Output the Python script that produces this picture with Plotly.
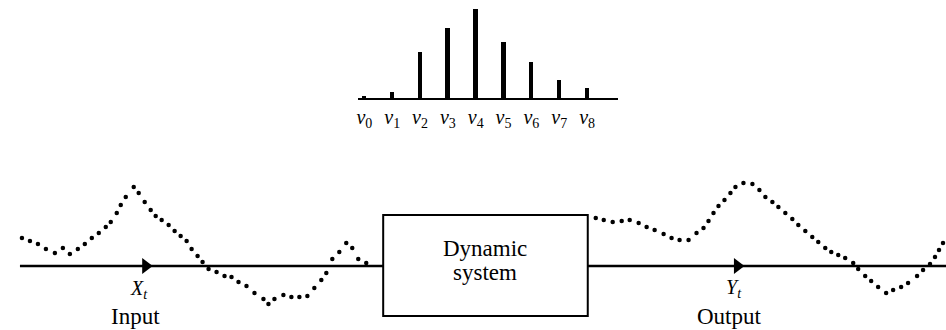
import plotly.graph_objects as go

# ---- impulse response weights (top chart) ----
lag_index = [0, 1, 2, 3, 4, 5, 6, 7, 8]
lag_labels = ["<i>v</i><sub>0</sub>", "<i>v</i><sub>1</sub>", "<i>v</i><sub>2</sub>",
              "<i>v</i><sub>3</sub>", "<i>v</i><sub>4</sub>", "<i>v</i><sub>5</sub>",
              "<i>v</i><sub>6</sub>", "<i>v</i><sub>7</sub>", "<i>v</i><sub>8</sub>"]
weights = [2, 6, 46, 70, 89, 56, 36, 18, 10]

# ---- input series X_t (dotted curve) ----
input_x = [20, 28, 36, 44, 53, 61, 68, 76, 83, 90, 97, 104, 109, 115, 119, 124, 132,
           137, 143, 149, 154, 160, 167, 173, 179, 185, 190, 196, 201, 207, 215, 223,
           230, 237, 245, 253, 262, 267, 273, 282, 290, 298, 306, 313, 320, 325, 331,
           338, 345, 351, 357, 365]
input_y = [238, 241, 244, 249, 253, 248, 254, 249, 244, 238, 233, 227, 222, 213, 205, 197, 187,
           193, 202, 210, 216, 220, 225, 231, 236, 241, 249, 256, 262, 269, 272, 276,
           277, 282, 286, 293, 299, 304, 299, 295, 297, 297, 296, 288, 280, 273, 259,
           252, 243, 248, 259, 263]

# ---- output series Y_t (dotted curve) ----
output_x = [595, 603, 612, 621, 629, 638, 646, 654, 663, 671, 679, 688, 696, 703, 708, 713,
            718, 724, 730, 735, 743, 752, 759, 765, 772, 778, 785, 792, 798, 805, 812, 818,
            825, 831, 838, 845, 853, 858, 865, 871, 878, 886, 893, 901, 908, 917, 923, 930,
            935, 939, 943]
output_y = [218, 220, 222, 221, 220, 223, 227, 230, 234, 238, 240, 240, 233, 228, 221, 213,
            206, 200, 193, 187, 183, 184, 190, 197, 202, 207, 213, 219, 225, 231, 237, 242,
            248, 252, 255, 258, 263, 269, 276, 281, 287, 293, 290, 287, 283, 276, 270, 264,
            257, 250, 243]

# ---- diagram geometry (pixel-like coordinates of the lower panel) ----
LINE_Y = 266
IN_LINE = (18, 382)
OUT_LINE = (587, 946)
BOX = (382, 215, 587, 316)
ARROWS_X = [144, 737]

SERIF = "Liberation Serif"
W, H = 946, 330

fig = go.Figure()

# top impulse-response bars
fig.add_trace(go.Bar(x=lag_index, y=weights, width=0.16, marker=dict(color="black", line=dict(width=0)),
                     xaxis="x", yaxis="y", showlegend=False, hoverinfo="skip"))

# dotted input / output series
fig.add_trace(go.Scatter(x=input_x, y=input_y, mode="markers", marker=dict(size=4.5, color="black"),
                         xaxis="x2", yaxis="y2", showlegend=False, hoverinfo="skip"))
fig.add_trace(go.Scatter(x=output_x, y=output_y, mode="markers", marker=dict(size=4.5, color="black"),
                         xaxis="x2", yaxis="y2", showlegend=False, hoverinfo="skip"))

# arrow heads on the signal lines
fig.add_trace(go.Scatter(x=ARROWS_X, y=[LINE_Y] * len(ARROWS_X), mode="markers",
                         marker=dict(symbol="triangle-right", size=14, color="black"),
                         xaxis="x2", yaxis="y2", showlegend=False, hoverinfo="skip"))

shapes = [
    dict(type="line", xref="x2", yref="y2", x0=IN_LINE[0], x1=IN_LINE[1], y0=LINE_Y, y1=LINE_Y,
         line=dict(color="black", width=2.5), layer="below"),
    dict(type="line", xref="x2", yref="y2", x0=OUT_LINE[0], x1=OUT_LINE[1], y0=LINE_Y, y1=LINE_Y,
         line=dict(color="black", width=2.5), layer="below"),
    dict(type="rect", xref="x2", yref="y2", x0=BOX[0], y0=BOX[1], x1=BOX[2], y1=BOX[3],
         line=dict(color="black", width=2), fillcolor="rgba(0,0,0,0)", layer="below"),
]

cx = (BOX[0] + BOX[2]) / 2
annotations = [
    dict(x=cx, y=248, text="Dynamic", xref="x2", yref="y2", showarrow=False,
         font=dict(family=SERIF, size=23, color="black")),
    dict(x=cx, y=272, text="system", xref="x2", yref="y2", showarrow=False,
         font=dict(family=SERIF, size=23, color="black")),
    dict(x=137, y=289, text="<i>X<sub>t</sub></i>", xref="x2", yref="y2", showarrow=False,
         font=dict(family=SERIF, size=20, color="black")),
    dict(x=134, y=316, text="Input", xref="x2", yref="y2", showarrow=False,
         font=dict(family=SERIF, size=23, color="black")),
    dict(x=734, y=288, text="<i>Y<sub>t</sub></i>", xref="x2", yref="y2", showarrow=False,
         font=dict(family=SERIF, size=20, color="black")),
    dict(x=729, y=316, text="Output", xref="x2", yref="y2", showarrow=False,
         font=dict(family=SERIF, size=23, color="black")),
]

fig.update_layout(
    width=W, height=H,
    margin=dict(l=0, r=0, t=0, b=0),
    paper_bgcolor="white", plot_bgcolor="rgba(0,0,0,0)",
    bargap=0,
    xaxis=dict(domain=[357 / W, 617 / W], range=[-0.22, 9.1], anchor="y",
               showline=True, linecolor="black", linewidth=2,
               tickmode="array", tickvals=lag_index, ticktext=lag_labels,
               ticks="", showgrid=False, zeroline=False, ticklabelstandoff=0,
               tickfont=dict(family=SERIF, size=20, color="black"), fixedrange=True),
    yaxis=dict(domain=[1 - 98 / H, 1 - 8 / H], range=[0, 90], anchor="x",
               visible=False, fixedrange=True),
    xaxis2=dict(domain=[0, 1], range=[0, W], anchor="y2", visible=False, fixedrange=True),
    yaxis2=dict(domain=[0, 1], range=[H, 0], anchor="x2", visible=False, fixedrange=True),
    shapes=shapes,
    annotations=annotations,
)

fig.write_html("out.html", config={"displayModeBar": False},
               post_script="document.body.style.margin='0';document.body.style.overflow='hidden';")
